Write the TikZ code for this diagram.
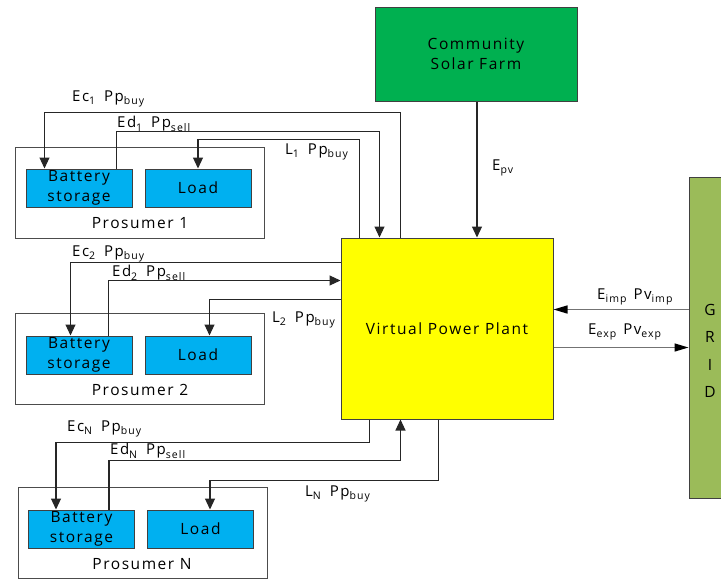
\documentclass[tikz,border=0pt]{standalone}
\usepackage{fontspec}
\setmainfont{Open Sans}[LetterSpace=10]
\usetikzlibrary{arrows.meta}
\definecolor{solarg}{HTML}{00B050}
\definecolor{vppy}{HTML}{FFFF00}
\definecolor{blufill}{HTML}{00B0F0}
\definecolor{gridg}{HTML}{9BBB59}
\newcommand\lsb[1]{\raisebox{-0.4ex}{\fontsize{10.5}{11}\selectfont #1}}
\begin{document}
\begin{tikzpicture}[x=1pt,y=-1pt,
  box/.style={draw=black!75, line width=1pt, inner sep=0pt, align=center, font=\fontsize{15.5}{19.5}\selectfont},
  bluebox/.style={box, fill=blufill, minimum width=106pt, minimum height=38pt},
  pros/.style={draw=black!70, line width=1pt, inner sep=0pt, minimum width=249pt, minimum height=91pt},
  ptext/.style={inner sep=0pt, font=\fontsize{15.5}{17}\selectfont},
  arr/.style={line width=1.1pt, draw=black!85, -{Triangle[length=11pt,width=10pt]}},
  garr/.style={line width=1.4pt, draw=black!55, -{Triangle[length=14pt,width=8pt,color=black]}},
  lbl/.style={font=\fontsize{15}{16}\selectfont, inner sep=0pt, anchor=west}]
\useasboundingbox (0,0) rectangle (721,581);
% main blocks
\node[box, fill=solarg, minimum width=202pt, minimum height=94pt] (solar) at (476,54) {Community\\Solar Farm};
\node[box, fill=vppy, minimum width=212pt, minimum height=181pt] (vpp) at (447,328.5) {Virtual Power Plant};
\node[box, fill=gridg, minimum width=46pt, minimum height=321pt] (grid) at (712,337.5) {};
\node[ptext, align=center, font=\fontsize{15.5}{27.5}\selectfont] (gridt) at (710,351) {G\\R\\I\\D};
% prosumer 1
\node[pros] (p1) at (139.5,192.5) {};
\node[bluebox] (bat1) at (79,188) {Battery\\storage};
\node[bluebox] (load1) at (198,188) {Load};
\node[ptext] (p1t) at (140,223) {Prosumer 1};
% prosumer 2
\node[pros] (p2) at (140,358.5) {};
\node[bluebox] (bat2) at (79,355) {Battery\\storage};
\node[bluebox] (load2) at (198,355) {Load};
\node[ptext] (p2t) at (140,390) {Prosumer 2};
% prosumer N
\node[pros] (pN) at (142.5,533) {};
\node[bluebox] (batN) at (81.5,529) {Battery\\storage};
\node[bluebox] (loadN) at (200.5,529) {Load};
\node[ptext] (pNt) at (142,564) {Prosumer N};
% connectors prosumer 1
\draw[arr] ([xshift=60pt]vpp.north west) -- ++(0,-125) -| ([xshift=19pt]bat1.north west);
\draw[arr] ([xshift=91pt]bat1.north west) -- ++(0,-37) -| ([xshift=39pt]vpp.north west);
\draw[arr] ([xshift=19pt]vpp.north west) -- ++(0,-98) -| (load1.north);
% connectors prosumer 2
\draw[arr] ([yshift=-25pt]vpp.north west) -| ([xshift=45pt]bat2.north west);
\draw[arr] ([xshift=83pt]bat2.north west) |- ([yshift=-43pt]vpp.north west);
\draw[arr] ([yshift=-62pt]vpp.north west) -| ([xshift=65pt]load2.north west);
% connectors prosumer N
\draw[arr] ([xshift=29pt]vpp.south west) -- ++(0,23) -| ([xshift=28pt]batN.north west);
\draw[arr] ([xshift=81pt]batN.north west) -- ++(0,-49) -| ([xshift=60pt]vpp.south west);
\draw[arr] ([xshift=98pt]vpp.south west) -- ++(0,61) -| ([xshift=63pt]loadN.north west);
% solar and grid
\draw[arr] ([xshift=1pt]solar.south) -- ([xshift=30pt]vpp.north);
\coordinate (imp) at ([yshift=-72pt]vpp.north east);
\coordinate (exp) at ([yshift=-110pt]vpp.north east);
\draw[garr] (grid.west |- imp) -- (imp);
\draw[garr] (exp) -- (grid.west |- exp);
% labels
\node[lbl] (lec1) at (72,99) {Ec\lsb{1}\hspace{9pt}Pp\lsb{buy}};
\node[lbl] (led1) at (117,124) {Ed\lsb{1}\hspace{9pt}Pp\lsb{sell}};
\node[lbl] (ll1) at (285,152) {L\lsb{1}\hspace{9pt}Pp\lsb{buy}};
\node[lbl] (lec2) at (72,254) {Ec\lsb{2}\hspace{9pt}Pp\lsb{buy}};
\node[lbl] (led2) at (112,273) {Ed\lsb{2}\hspace{9pt}Pp\lsb{sell}};
\node[lbl] (ll2) at (272,320) {L\lsb{2}\hspace{9pt}Pp\lsb{buy}};
\node[lbl] (lecN) at (67,429) {Ec\lsb{N}\hspace{9pt}Pp\lsb{buy}};
\node[lbl] (ledN) at (110,451) {Ed\lsb{N}\hspace{9pt}Pp\lsb{sell}};
\node[lbl] (llN) at (305,494) {L\lsb{N}\hspace{9pt}Pp\lsb{buy}};
\node[lbl] (lpv) at (492,168) {E\lsb{pv}};
\node[lbl] (limp) at (597,297) {E\lsb{imp}\hspace{7pt}Pv\lsb{imp}};
\node[lbl] (lexp) at (588,332) {E\lsb{exp}\hspace{7pt}Pv\lsb{exp}};
\end{tikzpicture}
\end{document}
